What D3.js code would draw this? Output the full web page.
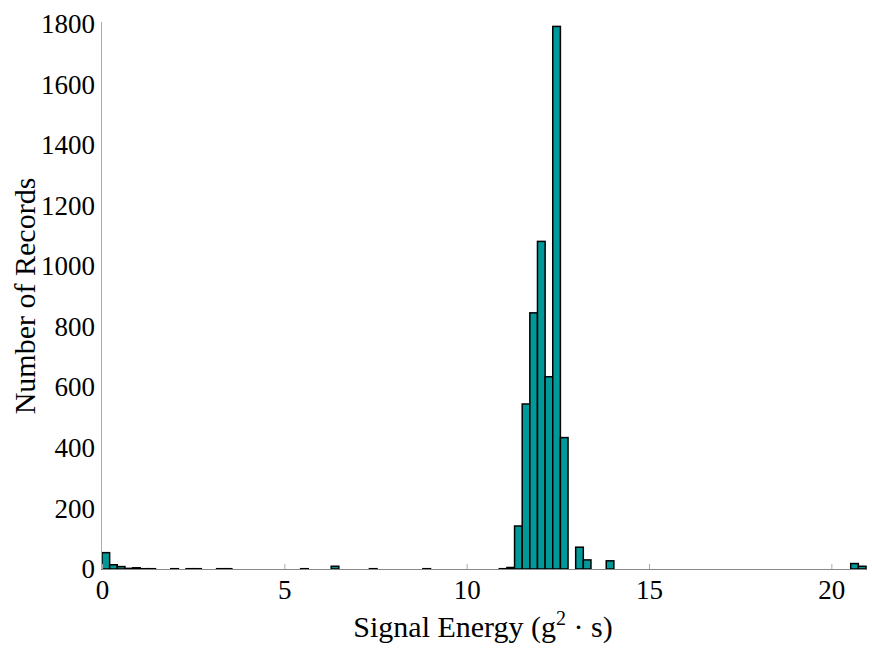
<!DOCTYPE html>
<html>
<head>
<meta charset="utf-8">
<script src="https://cdn.jsdelivr.net/npm/d3@7"></script>
<style>
	body { margin: 0; background: #fff; }
	svg { display: block; }
	text { font-family: "Liberation Serif", "DejaVu Serif", serif; fill: #000; }
	.axis path, .axis line { stroke: #aaa; }
	.axis text { font-size: 27px; }
	.bar { fill: #009999; stroke: #000; stroke-width: 1.5; }
	text.label { font-size: 30px; }
</style>
</head>
<body>
<div id="chart"></div>
<script>
// histogram: 100 equal bins from 0 to xMax
const xMax = 20.95;
const binCount = 100;
const counts = [
	54, 14, 8, 2, 4, 1, 1, 0, 0, 1,
	0, 1, 1, 0, 0, 1, 1, 0, 0, 0,
	0, 0, 0, 0, 0, 0, 1, 0, 0, 0,
	9, 0, 0, 0, 0, 1, 0, 0, 0, 0,
	0, 0, 1, 0, 0, 0, 0, 0, 0, 0,
	0, 0, 1, 5, 142, 545, 846, 1082, 635, 1792,
	434, 0, 72, 30, 0, 0, 27, 0, 0, 0,
	0, 0, 0, 0, 0, 0, 0, 0, 0, 0,
	0, 0, 0, 0, 0, 0, 0, 0, 0, 0,
	0, 0, 0, 0, 0, 0, 0, 0, 18, 9
];
const xTicks = [0, 5, 10, 15, 20];
const yTicks = [0, 200, 400, 600, 800, 1000, 1200, 1400, 1600, 1800];

const W = 872, H = 649;
const mLeft = 102, mRight = 866, mTop = 24, mBottom = 569;

const svg = d3.select("#chart").append("svg")
	.attr("width", W)
	.attr("height", H);

const x = d3.scaleLinear().domain([0, xMax]).range([mLeft, mRight]);
const y = d3.scaleLinear().domain([0, 1800]).range([mBottom, mTop]);

const binW = xMax / binCount;
const bins = counts.map((c, i) => ({ x0: i * binW, x1: (i + 1) * binW, n: c }));

svg.selectAll(".bar")
	.data(bins)
	.enter()
	.append("rect")
	.attr("class", "bar")
	.attr("x", d => x(d.x0))
	.attr("width", d => x(d.x1) - x(d.x0))
	.attr("y", d => y(d.n))
	.attr("height", d => mBottom - y(d.n));

// x axis, ticks pointing up into the plot
const xAxis = svg.append("g")
	.attr("class", "axis")
	.attr("transform", `translate(0, ${mBottom})`)
	.call(d3.axisBottom(x).tickValues(xTicks).tickFormat(d3.format("d"))
		.tickSize(-5).tickPadding(9).tickSizeOuter(0));
xAxis.selectAll("text").attr("dy", "0.78em");
xAxis.select(".domain").attr("d", `M${mLeft},0.5H${mRight}`);

// y axis, no visible ticks
const yAxis = svg.append("g")
	.attr("class", "axis")
	.attr("transform", `translate(${mLeft}, 0)`)
	.call(d3.axisLeft(y).tickValues(yTicks).tickFormat(d3.format("d"))
		.tickSize(0).tickPadding(7).tickSizeOuter(0));
yAxis.select(".domain").attr("d", `M-0.5,${mBottom}V${mTop - 2}`);

// bottom spine drawn over the bars
svg.append("line")
	.attr("x1", mLeft).attr("x2", mRight)
	.attr("y1", mBottom + 0.5).attr("y2", mBottom + 0.5)
	.attr("stroke", "#888").attr("stroke-width", 1);

const xLabel = svg.append("text")
	.attr("class", "label")
	.attr("x", 483)
	.attr("y", 637)
	.attr("text-anchor", "middle");
xLabel.append("tspan").text("Signal Energy (g");
xLabel.append("tspan").attr("dy", -12).attr("font-size", 20).text("2");
xLabel.append("tspan").attr("dy", 12).text(" · s)");

svg.append("text")
	.attr("class", "label")
	.attr("transform", `translate(35, 296) rotate(-90)`)
	.attr("text-anchor", "middle")
	.text("Number of Records");
</script>
</body>
</html>
